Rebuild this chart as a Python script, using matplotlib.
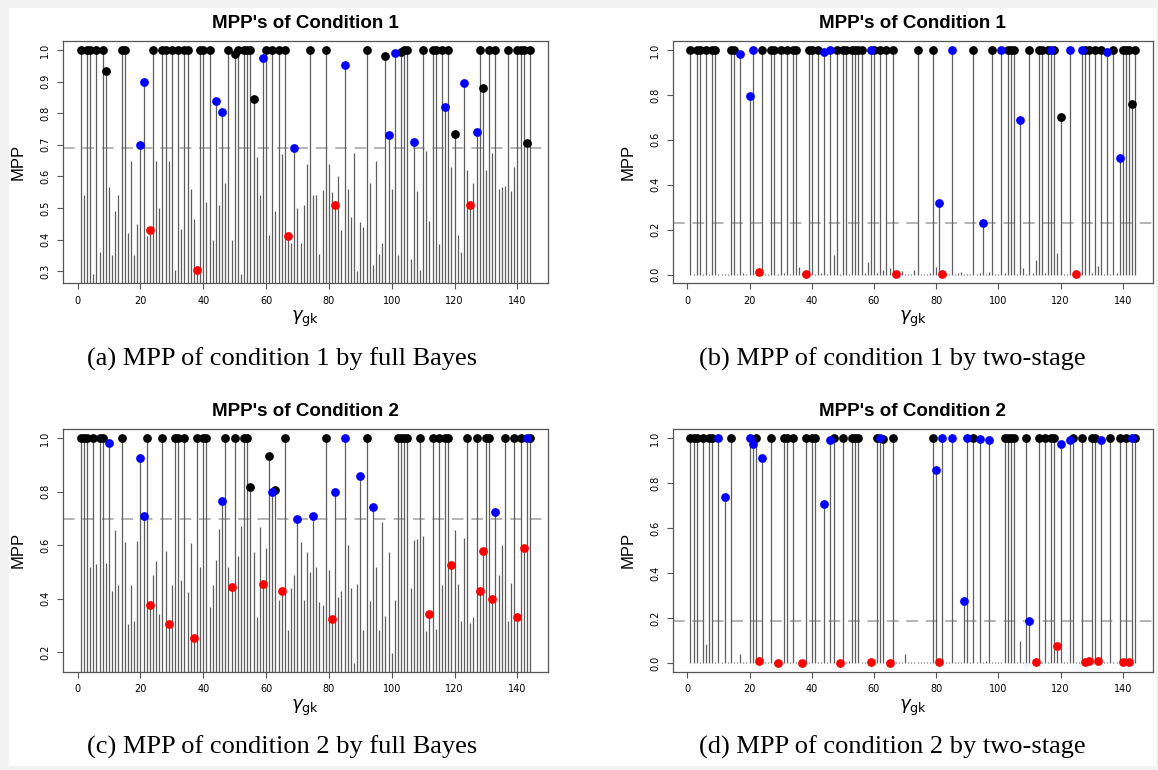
import numpy as np
import matplotlib.pyplot as plt
from matplotlib.patches import Rectangle

# gene index 1..144
idx = np.arange(1, 145)

# MPP values
mpp_a = [1, 0.54, 1, 1, 0.29, 1, 0.36, 1, 0.935, 0.565,
         0.35, 0.49, 0.54, 1, 1, 0.42, 0.65, 0.35, 0.45, 0.70,
         0.90, 0.41, 0.43, 1, 0.65, 0.50, 1, 1, 0.65, 1,
         0.305, 1, 0.435, 1, 1, 0.56, 0.465, 0.305, 1, 1,
         0.52, 1, 0.40, 0.84, 0.51, 0.805, 0.58, 1, 0.40, 0.987,
         1, 0.29, 1, 1, 1, 0.845, 0.66, 0.54, 0.975, 1,
         0.415, 1, 0.49, 1, 0.67, 1, 0.41, 0.39, 0.69, 0.50,
         0.39, 0.51, 0.64, 1, 0.54, 0.54, 0.355, 0.557, 1, 0.64,
         0.55, 0.51, 0.60, 0.43, 0.954, 0.56, 0.47, 0.675, 0.30, 0.455,
         0.44, 1, 0.58, 0.32, 0.65, 0.355, 0.39, 0.98, 0.73, 0.56,
         0.99, 0.35, 0.995, 1, 1, 0.34, 0.71, 0.555, 0.305, 1,
         0.68, 0.46, 1, 1, 0.385, 1, 0.82, 1, 0.63, 0.735,
         0.415, 0.36, 0.896, 0.62, 0.51, 0.58, 0.74, 1, 0.88, 0.62,
         1, 0.675, 1, 0.56, 0.565, 0.57, 1, 0.555, 0.63, 1,
         1, 1, 0.707, 1]

mpp_b = [1, 0.004, 1, 1, 0.003, 1, 0.004, 1, 1, 0.002,
         0.003, 0.002, 0.004, 1, 1, 0.003, 0.98, 0.005, 0.004, 0.797,
         1, 0.003, 0.01, 1, 0.004, 0.002, 1, 1, 0.003, 1,
         0.005, 1, 0.004, 1, 1, 0.034, 0.006, 0.001, 1, 1,
         0.004, 1, 0.005, 0.99, 0.003, 1, 0.087, 1, 0.004, 1,
         1, 0.003, 1, 1, 1, 1, 0.005, 0.055, 1, 1,
         0.006, 1, 0.02, 1, 0.03, 1, 0.001, 0.012, 0.015, 0.003,
         0.002, 0.004, 0.02, 1, 0.003, 0.002, 0.004, 0.006, 1, 0.034,
         0.32, 0.002, 0.003, 0.004, 1, 0.003, 0.005, 0.01, 0.004, 0.003,
         0.002, 1, 0.004, 0.006, 0.228, 0.003, 0.01, 1, 0.004, 0.003,
         1, 0.005, 1, 1, 1, 0.004, 0.69, 0.027, 0.004, 1,
         0.005, 0.066, 1, 1, 0.006, 1, 1, 1, 0.096, 0.70,
         0.004, 0.003, 1, 0.005, 0.001, 0.004, 1, 1, 1, 0.005,
         1, 0.037, 1, 0.004, 0.99, 0.003, 1, 0.005, 0.52, 1,
         1, 1, 0.76, 1]

mpp_c = [1, 1, 1, 0.517, 1, 0.53, 1, 1, 0.533, 0.981,
         0.427, 0.657, 0.45, 1, 0.61, 0.306, 0.45, 0.317, 0.617, 0.925,
         0.707, 1, 0.377, 0.49, 0.54, 0.342, 1, 0.578, 0.306, 0.45,
         1, 1, 0.47, 1, 0.426, 0.607, 0.252, 1, 0.517, 1,
         1, 0.368, 0.45, 0.545, 0.662, 0.763, 1, 0.517, 0.445, 1,
         0.56, 0.672, 1, 1, 0.816, 0.573, 0.333, 0.666, 0.455, 0.59,
         0.934, 0.797, 0.807, 0.394, 0.427, 1, 0.283, 0.44, 0.49, 0.696,
         0.61, 0.395, 0.574, 0.50, 0.707, 0.52, 0.386, 0.375, 1, 0.508,
         0.325, 0.80, 0.408, 0.43, 1, 0.60, 0.44, 0.161, 0.454, 0.858,
         0.283, 1, 0.392, 0.742, 0.52, 0.283, 0.688, 0.336, 0.573, 0.196,
         0.395, 1, 1, 1, 1, 0.44, 0.62, 0.624, 1, 0.635,
         0.281, 0.342, 1, 0.287, 1, 0.45, 1, 1, 0.524, 0.657,
         0.454, 0.318, 0.626, 1, 0.308, 0.33, 1, 0.427, 0.579, 1,
         1, 0.40, 0.723, 0.487, 0.60, 1, 0.315, 0.46, 1, 0.333,
         1, 0.588, 1, 1]

mpp_d = [1, 1, 1, 0.003, 1, 0.086, 1, 1, 0.004, 1,
         0.003, 0.736, 0.002, 1, 0.004, 0.003, 0.041, 0.003, 0.005, 1,
         0.973, 1, 0.008, 0.911, 0.004, 0.003, 1, 0.005, 0.001, 0.004,
         1, 1, 0.003, 1, 0.005, 0.004, 0.001, 1, 0.003, 1,
         1, 0.004, 0.003, 0.707, 0.005, 0.99, 1, 0.004, 0.001, 1,
         0.003, 0.01, 1, 1, 1, 0.004, 0.003, 0.006, 0.003, 0.004,
         1, 1, 0.995, 0.003, 0.001, 1, 0.004, 0.003, 0.005, 0.041,
         0.004, 0.003, 0.005, 0.004, 0.006, 0.003, 0.004, 0.005, 1, 0.859,
         0.003, 1, 0.004, 0.003, 1, 0.005, 0.004, 0.006, 0.277, 1,
         0.003, 1, 0.005, 0.995, 0.004, 0.01, 0.99, 0.003, 0.004, 0.005,
         0.003, 1, 1, 1, 1, 0.004, 0.099, 0.006, 1, 0.188,
         0.005, 0.003, 1, 0.004, 1, 0.005, 1, 1, 0.076, 0.975,
         0.004, 0.003, 0.99, 1, 0.005, 0.004, 1, 0.003, 0.008, 1,
         1, 0.01, 0.99, 0.004, 0.005, 1, 0.003, 0.004, 1, 0.003,
         1, 0.003, 1, 1]

# truly DE genes per condition, missed ones (red), false calls (blue)
true_c1 = [1, 3, 4, 6, 8, 9, 14, 15, 23, 24, 27, 28, 30, 32, 34, 35, 38, 39, 40, 42,
           48, 50, 51, 53, 54, 55, 56, 60, 62, 64, 66, 67, 74, 79, 82, 92, 98, 103, 104, 105,
           110, 113, 114, 116, 118, 120, 125, 128, 129, 131, 133, 137, 140, 141, 142, 143, 144]
red_c1 = [23, 38, 67, 82, 125]
true_c2 = [1, 2, 3, 5, 7, 8, 14, 22, 23, 27, 29, 31, 32, 34, 37, 38, 40, 41, 47, 49,
           50, 53, 54, 55, 59, 61, 63, 65, 66, 79, 81, 92, 102, 103, 104, 105, 109, 112, 113, 115,
           117, 118, 119, 124, 127, 128, 129, 130, 131, 132, 136, 139, 140, 141, 142, 144]
red_c2 = [23, 29, 37, 49, 59, 65, 81, 112, 119, 128, 129, 132, 140, 142]

blue_a = [20, 21, 44, 46, 59, 69, 85, 99, 101, 107, 117, 123, 127]
blue_b = [17, 20, 21, 44, 46, 59, 81, 85, 95, 101, 107, 117, 123, 127, 135, 139]
blue_c = [10, 20, 21, 46, 62, 70, 75, 82, 85, 90, 94, 133, 143]
blue_d = [10, 12, 20, 21, 24, 44, 46, 62, 80, 82, 85, 89, 90, 94, 97, 110, 120, 123, 133, 143]

# cutoff lines
cut_a, cut_b, cut_c, cut_d = 0.691, 0.228, 0.696, 0.188

titles = ["MPP's of Condition 1", "MPP's of Condition 1",
          "MPP's of Condition 2", "MPP's of Condition 2"]
captions = ["(a) MPP of condition 1 by full Bayes",
            "(b) MPP of condition 1 by two-stage",
            "(c) MPP of condition 2 by full Bayes",
            "(d) MPP of condition 2 by two-stage"]

W, H = 1158, 770
fig = plt.figure(figsize=(W / 100, H / 100), dpi=100, facecolor='#f2f2f2')
fig.patches.append(Rectangle((9 / W, 4 / H), 1147 / W, 758 / H, transform=fig.transFigure,
                             facecolor='white', edgecolor='none', zorder=-10))

frame = '#555555'


def panel(box, vals, true_set, red_set, blue_set, cut, yticks, title, caption, cap_x):
    l, t, r, b = box
    ax = fig.add_axes([l / W, 1 - b / H, (r - l) / W, (b - t) / H])
    vals = np.array(vals, dtype=float)
    ax.vlines(idx, 0, vals, colors='#5e5e5e', lw=0.9, zorder=2)
    ax.axhline(cut, color='#b4b4b4', lw=1.4, ls=(0, (6, 4)), zorder=1)

    black = [i for i in true_set if i not in red_set]
    for group, col in [(black, 'black'), (blue_set, '#0000ff'), (red_set, '#ff0000')]:
        g = np.array(group)
        ax.plot(g, vals[g - 1], 'o', color=col, ms=6.3, mew=0, zorder=3)

    lo, hi = vals.min(), vals.max()
    ax.set_xlim(1 - 0.04 * 143, 144 + 0.04 * 143)
    ax.set_ylim(lo - 0.04 * (hi - lo), hi + 0.04 * (hi - lo))
    ax.set_xticks(range(0, 141, 20))
    ax.set_yticks(yticks)
    ax.set_yticklabels(['%.1f' % v for v in yticks], rotation=90, va='center')
    ax.tick_params(labelsize=7, length=4, width=0.8, color=frame, pad=5)
    for s in ax.spines.values():
        s.set_color(frame)
        s.set_linewidth(0.9)

    ax.set_title(title, fontsize=13.5, fontweight='bold', family='Liberation Sans', pad=9)
    ax.text(-0.092, 0.5, 'MPP', transform=ax.transAxes, rotation=90,
            ha='center', va='center', fontsize=12, family='Liberation Sans')
    ax.text(0.5, -0.148, r'$\gamma_{\mathsf{gk}}$', transform=ax.transAxes,
            ha='center', va='center', fontsize=13)
    fig.text(cap_x / W, 1 - (b + 76) / H, caption, ha='center', va='center',
             fontsize=19, family='Liberation Serif')
    return ax


top, bot = (41, 283.3), (429, 671.7)
left_x, right_x = (62.7, 548), (672.7, 1153)

panel((left_x[0], top[0], left_x[1], top[1]), mpp_a, true_c1, red_c1, blue_a, cut_a,
      np.arange(0.3, 1.01, 0.1), titles[0], captions[0], 282)
panel((right_x[0], top[0], right_x[1], top[1]), mpp_b, true_c1, red_c1, blue_b, cut_b,
      np.arange(0, 1.01, 0.2), titles[1], captions[1], 892)
panel((left_x[0], bot[0], left_x[1], bot[1]), mpp_c, true_c2, red_c2, blue_c, cut_c,
      np.arange(0.2, 1.01, 0.2), titles[2], captions[2], 282)
panel((right_x[0], bot[0], right_x[1], bot[1]), mpp_d, true_c2, red_c2, blue_d, cut_d,
      np.arange(0, 1.01, 0.2), titles[3], captions[3], 892)

fig.savefig('out.png', dpi=100, facecolor=fig.get_facecolor())
